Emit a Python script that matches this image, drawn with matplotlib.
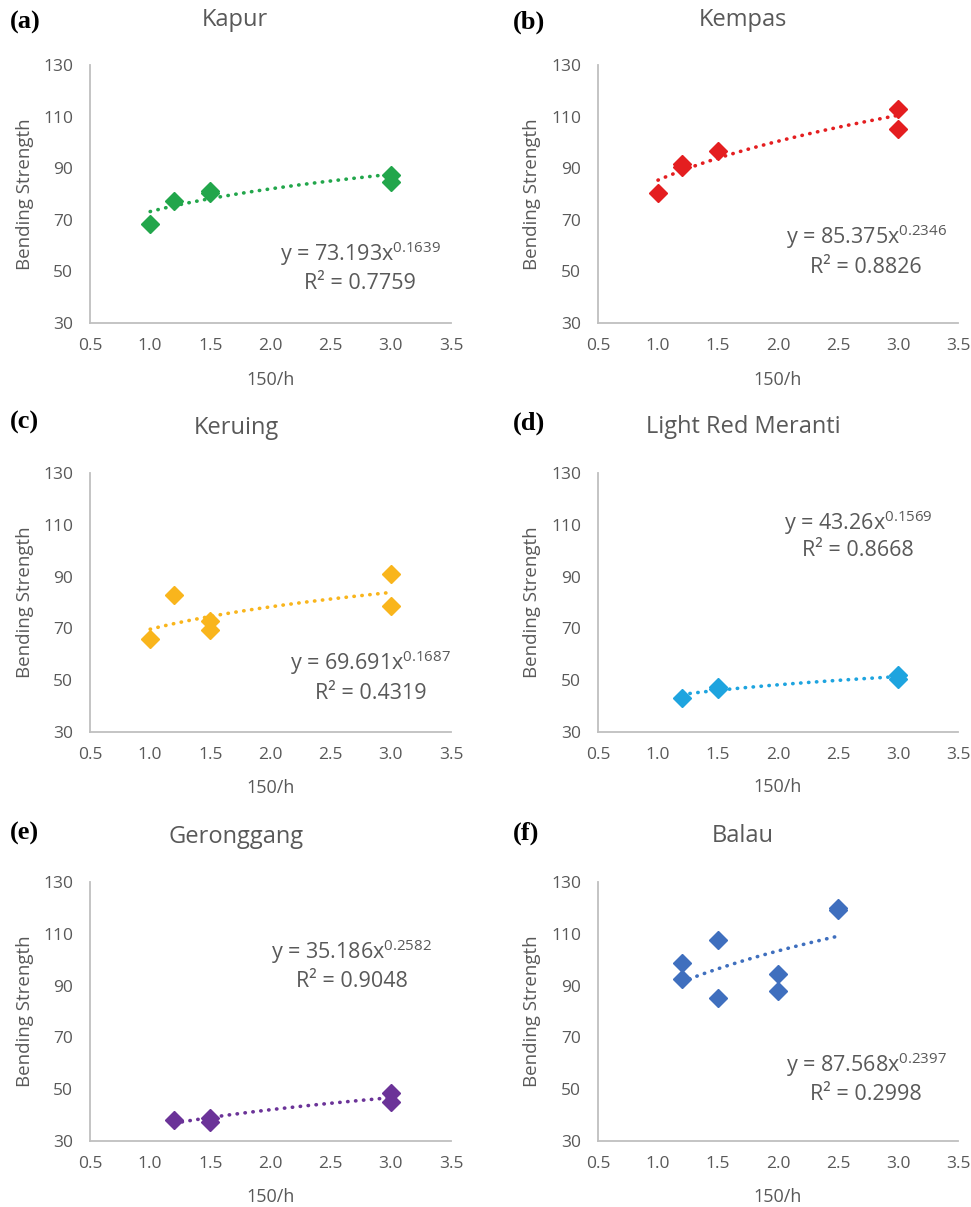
import numpy as np
import matplotlib
matplotlib.use('Agg')
import matplotlib.pyplot as plt

plt.rcParams['font.family'] = ['Open Sans', 'DejaVu Sans']
plt.rcParams['mathtext.fontset'] = 'custom'
plt.rcParams['mathtext.rm'] = 'Open Sans'
plt.rcParams['mathtext.default'] = 'regular'

GRAY = '#595959'

# data (x = 150/h, y = bending strength)
species = ['Kapur', 'Kempas', 'Keruing', 'Light Red Meranti', 'Geronggang', 'Balau']
panel_tags = ['(a)', '(b)', '(c)', '(d)', '(e)', '(f)']
colors = ['#22a64b', '#e41e20', '#f9b51c', '#1ea4df', '#6b3398', '#3f6fbe']

kapur_x = [1.0, 1.2, 1.5, 1.5, 3.0, 3.0]
kapur_y = [68.4, 77.1, 80.4, 81.2, 87.4, 84.6]
kempas_x = [1.0, 1.2, 1.2, 1.5, 3.0, 3.0]
kempas_y = [80.4, 90.6, 91.8, 96.7, 112.8, 105.3]
keruing_x = [1.0, 1.2, 1.5, 1.5, 3.0, 3.0]
keruing_y = [65.9, 82.9, 72.7, 69.4, 91.0, 78.5]
lrm_x = [1.2, 1.5, 1.5, 3.0, 3.0]
lrm_y = [43.1, 46.6, 47.5, 51.9, 50.3]
geron_x = [1.2, 1.5, 1.5, 3.0, 3.0]
geron_y = [38.0, 37.4, 38.8, 48.5, 45.2]
balau_x = [1.2, 1.2, 1.5, 1.5, 2.0, 2.0, 2.5, 2.5]
balau_y = [98.9, 92.4, 107.5, 85.2, 94.6, 87.9, 119.2, 120.0]

# power trend line y = a * x^b as printed on each panel
fit_a = [73.193, 85.375, 69.691, 43.26, 35.186, 87.568]
fit_b = [0.1639, 0.2346, 0.1687, 0.1569, 0.2582, 0.2397]
fit_r2 = ['0.7759', '0.8826', '0.4319', '0.8668', '0.9048', '0.2998']

xs = [kapur_x, kempas_x, keruing_x, lrm_x, geron_x, balau_x]
ys = [kapur_y, kempas_y, keruing_y, lrm_y, geron_y, balau_y]

W, H = 971, 1207
fig = plt.figure(figsize=(W / 100, H / 100), dpi=100)

# axes boxes in pixels (left, top, right, bottom)
boxes = [(90, 65, 451, 323), (598, 65, 958, 323),
         (90, 473, 451, 732), (598, 473, 958, 732),
         (90, 882, 451, 1141), (598, 882, 958, 1141)]
title_pos = [(235, 20), (743, 20), (236, 428), (743, 427), (236, 837), (743, 836)]
tag_pos = [(10, 22), (513, 22), (10, 422), (513, 423), (10, 833), (513, 833)]
# equation block: centre x (axes frac), line-1 y, line-2 y
eq_pos = [(0.748, 0.27, 0.155), (0.745, 0.333, 0.217),
          (0.778, 0.266, 0.15), (0.722, 0.81, 0.70),
          (0.725, 0.73, 0.614), (0.745, 0.293, 0.178)]
xlab_y = [-0.221, -0.221, -0.216, -0.212, -0.216, -0.216]

for i in range(6):
    x0, y0, x1, y1 = boxes[i]
    ax = fig.add_axes([x0 / W, 1 - y1 / H, (x1 - x0) / W, (y1 - y0) / H])
    c = colors[i]

    xx = np.linspace(min(xs[i]), max(xs[i]), 200)
    ax.plot(xx, fit_a[i] * xx ** fit_b[i], color=c, lw=2.6,
            linestyle=(0, (0.1, 2.1)), dash_capstyle='round', zorder=2)
    ax.plot(xs[i], ys[i], 'D', color=c, markersize=8.7, mec=c, zorder=3)

    ax.set_xlim(0.5, 3.5)
    ax.set_ylim(30, 130)
    ax.set_xticks(np.arange(0.5, 3.51, 0.5))
    ax.set_xticklabels(['%.1f' % v for v in np.arange(0.5, 3.51, 0.5)])
    ax.set_yticks(range(30, 131, 20))
    ax.tick_params(length=0, labelsize=12.5, labelcolor=GRAY)
    ax.tick_params(axis='y', pad=12)
    ax.tick_params(axis='x', pad=11)
    for s in ['top', 'right']:
        ax.spines[s].set_visible(False)
    for s in ['left', 'bottom']:
        ax.spines[s].set_color('#bfbfbf')
        ax.spines[s].set_linewidth(1.3)
    ax.patch.set_alpha(0)

    ax.set_xlabel('150/h', fontsize=13, color=GRAY)
    ax.xaxis.set_label_coords(0.5, xlab_y[i])
    ax.xaxis.label.set_va('center')
    ax.set_ylabel('Bending Strength', fontsize=13.5, color=GRAY)
    ax.yaxis.set_label_coords(-0.18 if x0 < 300 else -0.183, 0.5)
    ax.yaxis.label.set_va('center')

    ex, ey1, ey2 = eq_pos[i]
    ax.text(ex, ey1, 'y = %gx$^{%s}$' % (fit_a[i], '%.4f' % fit_b[i]),
            transform=ax.transAxes, ha='center', va='center', fontsize=15.5, color=GRAY)
    ax.text(ex, ey2, 'R² = ' + fit_r2[i], transform=ax.transAxes,
            ha='center', va='center', fontsize=15.5, color=GRAY)

    tx, ty = title_pos[i]
    fig.text(tx / W, 1 - ty / H, species[i], ha='center', va='center',
             fontsize=17, color=GRAY)
    px, py = tag_pos[i]
    fig.text(px / W, 1 - py / H, panel_tags[i], ha='left', va='center',
             fontsize=19, fontweight='bold', family='Liberation Serif', color='black')

fig.savefig('out.png', dpi=100)
